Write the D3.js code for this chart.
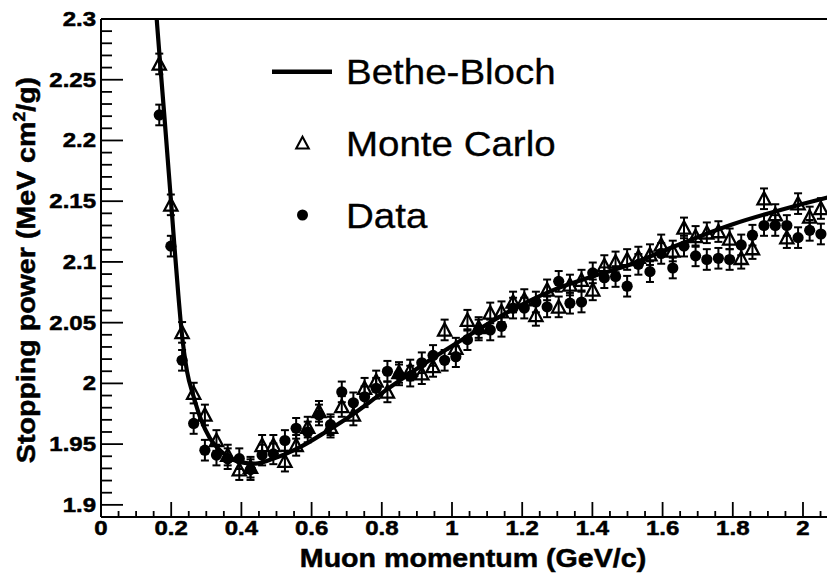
<!DOCTYPE html>
<html>
<head>
<meta charset="utf-8">
<script src="https://cdn.jsdelivr.net/npm/d3@7"></script>
<style>
  html, body { margin: 0; padding: 0; background: #fff; }
  svg { display: block; }
  text { font-family: "Liberation Sans", Arial, Helvetica, sans-serif; fill: #000; }
</style>
</head>
<body>
<svg id="chart" width="827" height="579"></svg>
<script>
// ---------------- data ----------------
const momentum = [0.166, 0.199, 0.231, 0.264, 0.296, 0.329, 0.361, 0.394, 0.426, 0.459,
  0.491, 0.524, 0.556, 0.589, 0.621, 0.654, 0.686, 0.719, 0.751, 0.784,
  0.816, 0.849, 0.881, 0.914, 0.946, 0.979, 1.011, 1.044, 1.076, 1.109,
  1.141, 1.174, 1.206, 1.239, 1.271, 1.304, 1.336, 1.369, 1.401, 1.434,
  1.466, 1.499, 1.531, 1.564, 1.596, 1.629, 1.661, 1.694, 1.726, 1.759,
  1.791, 1.824, 1.856, 1.889, 1.921, 1.954, 1.986, 2.019, 2.051];

const monteCarlo = [2.263, 2.147, 2.042, 1.992, 1.974, 1.953, 1.941, 1.929, 1.931, 1.949,
  1.949, 1.936, 1.949, 1.964, 1.977, 1.964, 1.981, 1.974, 1.996, 2.002,
  1.993, 2.009, 2.011, 2.008, 2.014, 2.044, 2.029, 2.052, 2.046, 2.058,
  2.059, 2.067, 2.069, 2.056, 2.077, 2.063, 2.081, 2.085, 2.077, 2.097,
  2.100, 2.102, 2.104, 2.106, 2.114, 2.109, 2.128, 2.121, 2.124, 2.125,
  2.119, 2.103, 2.111, 2.152, 2.139, 2.120, 2.148, 2.137, 2.144];

const dataValues = [2.221, 2.113, 2.019, 1.967, 1.945, 1.941, 1.938, 1.938, 1.929, 1.941,
  1.942, 1.953, 1.963, 1.960, 1.974, 1.966, 1.993, 1.984, 1.989, 1.996,
  2.010, 2.007, 2.006, 2.017, 2.023, 2.019, 2.022, 2.036, 2.044, 2.044,
  2.047, 2.062, 2.062, 2.067, 2.063, 2.084, 2.066, 2.067, 2.091, 2.087,
  2.088, 2.080, 2.098, 2.092, 2.107, 2.095, 2.113, 2.105, 2.102, 2.103,
  2.102, 2.114, 2.122, 2.130, 2.130, 2.130, 2.120, 2.126, 2.123];

const errMC = 0.0085;
const errData = 0.0085;

const bbMomentum = [0.150, 0.160, 0.170, 0.180, 0.190, 0.200, 0.210, 0.220, 0.230, 0.245,
  0.263, 0.285, 0.310, 0.335, 0.360, 0.400, 0.440, 0.490, 0.570, 0.640,
  0.720, 0.800, 0.920, 1.040, 1.180, 1.290, 1.400, 1.500, 1.610, 1.800,
  1.990, 2.070];
const bbValues = [2.335, 2.295, 2.258, 2.222, 2.185, 2.148, 2.110, 2.074, 2.042, 2.010,
  1.990, 1.970, 1.955, 1.946, 1.940, 1.935, 1.934, 1.938, 1.948, 1.960,
  1.975, 1.992, 2.016, 2.038, 2.062, 2.077, 2.088, 2.097, 2.110, 2.131,
  2.147, 2.153];

const xMajorTicks = [0, 0.2, 0.4, 0.6, 0.8, 1, 1.2, 1.4, 1.6, 1.8, 2];
const xTickLabels = ["0", "0.2", "0.4", "0.6", "0.8", "1", "1.2", "1.4", "1.6", "1.8", "2"];
const yMajorTicks = [1.9, 1.95, 2, 2.05, 2.1, 2.15, 2.2, 2.25, 2.3];
const yTickLabels = ["1.9", "1.95", "2", "2.05", "2.1", "2.15", "2.2", "2.25", "2.3"];
const legendLabels = ["Bethe-Bloch", "Monte Carlo", "Data"];
const xTitle = "Muon momentum (GeV/c)";

// ---------------- layout ----------------
const svg = d3.select("#chart");
const L = 101, R = 827, T = 19, B = 517;
const x = d3.scaleLinear().domain([0, 2.0684]).range([L, R]);
const y = d3.scaleLinear().domain([1.89, 2.3]).range([B, T]);
const FONT = '"Liberation Sans", Arial, Helvetica, sans-serif';

svg.append("defs").append("clipPath").attr("id", "plotclip")
  .append("rect").attr("x", L).attr("y", T).attr("width", R - L).attr("height", B - T);

const plot = svg.append("g").attr("clip-path", "url(#plotclip)");

// Bethe-Bloch curve
const bb = bbMomentum.map((p, i) => [p, bbValues[i]]);
plot.append("path")
  .datum(bb)
  .attr("fill", "none")
  .attr("stroke", "#000")
  .attr("stroke-width", 4.2)
  .attr("stroke-linejoin", "round")
  .attr("d", d3.line().x(d => x(d[0])).y(d => y(d[1])).curve(d3.curveMonotoneX));

// error bars
function errorBars(vals, err) {
  const g = plot.append("g").attr("stroke", "#000").attr("stroke-width", 2);
  momentum.forEach((p, i) => {
    const cx = x(p), y0 = y(vals[i] - err), y1 = y(vals[i] + err);
    g.append("line").attr("x1", cx).attr("x2", cx).attr("y1", y0).attr("y2", y1);
    g.append("line").attr("x1", cx - 4).attr("x2", cx + 4).attr("y1", y0).attr("y2", y0);
    g.append("line").attr("x1", cx - 4).attr("x2", cx + 4).attr("y1", y1).attr("y2", y1);
  });
}
errorBars(dataValues, errData);
errorBars(monteCarlo, errMC);

// data: filled circles
plot.append("g").selectAll("circle").data(momentum).join("circle")
  .attr("cx", d => x(d))
  .attr("cy", (d, i) => y(dataValues[i]))
  .attr("r", 5.6)
  .attr("fill", "#000");

// Monte Carlo: open triangles
const tri = "M0,-7.2L6.6,5.2L-6.6,5.2Z";
plot.append("g").selectAll("path").data(momentum).join("path")
  .attr("transform", (d, i) => `translate(${x(d)},${y(monteCarlo[i]) + 0.5})`)
  .attr("d", tri)
  .attr("fill", "none")
  .attr("stroke", "#000")
  .attr("stroke-width", 2.3);

// ---------------- axes / frame ----------------
const axes = svg.append("g").attr("stroke", "#000").attr("fill", "none");
axes.append("line").attr("x1", L).attr("x2", R).attr("y1", T).attr("y2", T).attr("stroke-width", 1.8);
axes.append("line").attr("x1", L).attr("x2", L).attr("y1", T).attr("y2", B).attr("stroke-width", 2);
axes.append("line").attr("x1", L).attr("x2", R).attr("y1", B).attr("y2", B).attr("stroke-width", 2);

// x ticks
const xMinor = d3.range(0, 2.07, 0.05);
xMinor.forEach(v => {
  const isMajor = xMajorTicks.some(m => Math.abs(m - v) < 1e-6);
  const px = x(v);
  axes.append("line").attr("x1", px).attr("x2", px)
    .attr("y1", B).attr("y2", B - (isMajor ? 15 : 6)).attr("stroke-width", 1.8);
});
// y ticks
const yMinor = d3.range(1.89, 2.3001, 0.01);
yMinor.forEach(v => {
  const isMajor = yMajorTicks.some(m => Math.abs(m - v) < 1e-6);
  const py = y(v);
  axes.append("line").attr("x1", L).attr("x2", L + (isMajor ? 22 : 11))
    .attr("y1", py).attr("y2", py).attr("stroke-width", 1.8);
});

function stretchedText(parent, str, tx, ty, size, weight, anchor, sx, rot, sw) {
  const t = parent.append("text")
    .attr("transform", `translate(${tx},${ty})` + (rot ? ` rotate(${rot})` : "") + ` scale(${sx},1)`)
    .attr("text-anchor", anchor)
    .style("font-family", FONT)
    .style("font-size", size + "px")
    .style("font-weight", weight)
    .style("stroke", "#000")
    .style("stroke-width", sw || 0);
  t.text(str);
  return t;
}

const labels = svg.append("g");
xMajorTicks.forEach((v, i) => {
  stretchedText(labels, xTickLabels[i], x(v), 535, 20, "bold", "middle", 1.2, 0, 0.5);
});
yMajorTicks.forEach((v, i) => {
  stretchedText(labels, yTickLabels[i], 96, y(v) + 7, 20, "bold", "end", 1.2, 0, 0.5);
});

// axis titles
stretchedText(labels, xTitle, 473, 567, 26, "bold", "middle", 1.1, 0, 0.5);

const yt = labels.append("text")
  .attr("transform", "translate(35,270) rotate(-90) scale(1.1,1)")
  .attr("text-anchor", "middle")
  .style("font-family", FONT)
  .style("font-size", "26px")
  .style("font-weight", "bold")
  .style("stroke", "#000")
  .style("stroke-width", 0.5);
yt.append("tspan").text("Stopping power (MeV cm");
yt.append("tspan").attr("dy", -10).style("font-size", "16px").text("2");
yt.append("tspan").attr("dy", 10).text("/g)");

// ---------------- legend ----------------
const leg = svg.append("g");
leg.append("line").attr("x1", 272).attr("x2", 332).attr("y1", 71.7).attr("y2", 71.7)
  .attr("stroke", "#000").attr("stroke-width", 4.5);
leg.append("path").attr("d", tri).attr("transform", "translate(302.5,143.5) scale(0.95)")
  .attr("fill", "none").attr("stroke", "#000").attr("stroke-width", 2.2);
leg.append("circle").attr("cx", 302.5).attr("cy", 215).attr("r", 5.5).attr("fill", "#000");
const legY = [71.7, 143.5, 215];
legendLabels.forEach((s, i) => {
  stretchedText(leg, s, 346, legY[i] + 12.5, 35, "normal", "start", 1.1, 0, 0.3);
});
</script>
</body>
</html>
